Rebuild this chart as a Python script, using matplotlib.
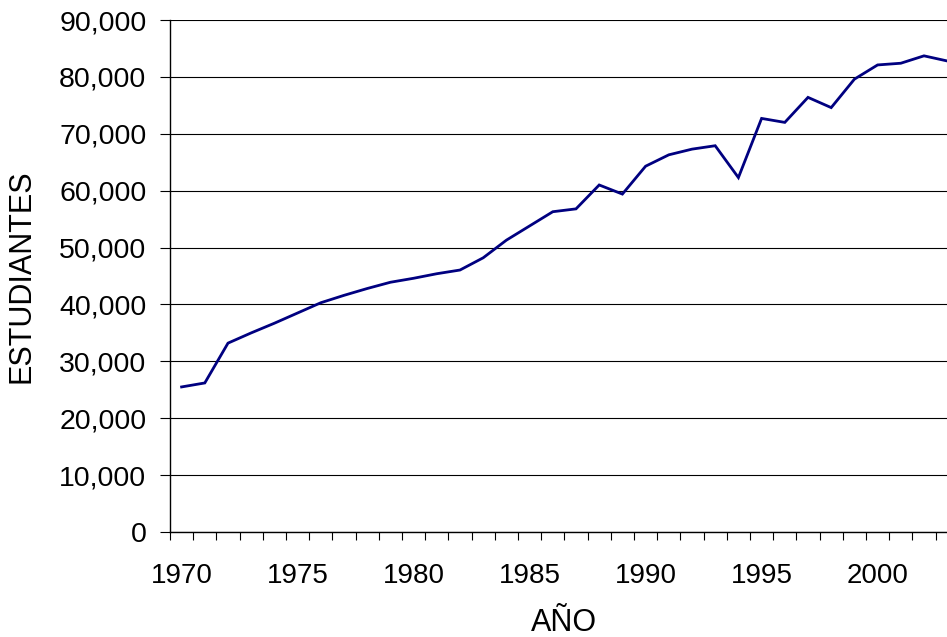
import numpy as np
import matplotlib.pyplot as plt
from matplotlib.ticker import FuncFormatter, MultipleLocator

# datos: estudiantes por año
years = list(range(1970, 2004))
students = [25500, 26200, 33200, 35000, 36700, 38500, 40300, 41600, 42800, 43900,
            44600, 45400, 46050, 48200, 51300, 53800, 56300, 56800, 61000, 59400,
            64300, 66300, 67300, 67900, 62300, 72700, 72000, 76400, 74600, 79600,
            82100, 82400, 83700, 82800]
y_ticks = list(range(0, 90001, 10000))

plt.rcParams['font.family'] = ['Liberation Sans', 'DejaVu Sans']

fig = plt.figure(figsize=(9.47, 6.37), dpi=100)
# axes extends past the right edge, like the cropped original
ax = fig.add_axes([170 / 947, 105 / 637, 34 * 23.2 / 947, 512 / 637])

ax.plot(years, students, color='#000080', lw=2.0, solid_joinstyle='miter')

ax.set_xlim(1969.5, 2003.5)
ax.set_ylim(0, 90000)
ax.set_yticks(y_ticks)
ax.yaxis.set_major_formatter(FuncFormatter(lambda v, p: f'{int(v):,}'))
ax.yaxis.grid(True, color='black', lw=0.8)
ax.set_axisbelow(True)

ax.set_xticks(range(1970, 2004, 5))
ax.xaxis.set_minor_locator(MultipleLocator(1, offset=0.5))
ax.tick_params(axis='x', which='major', length=0, pad=22, labelsize=20)
ax.tick_params(axis='x', which='minor', length=6, width=0.8, direction='out')
ax.tick_params(axis='y', length=7, width=0.8, pad=10, labelsize=20.5)

for s in ['top', 'right']:
    ax.spines[s].set_visible(False)
for s in ['left', 'bottom']:
    ax.spines[s].set_linewidth(1.0)

ax.set_xlabel('AÑO', fontsize=22, labelpad=14)
ax.set_ylabel('ESTUDIANTES', fontsize=22, labelpad=16)

fig.savefig('out.png', dpi=100)
